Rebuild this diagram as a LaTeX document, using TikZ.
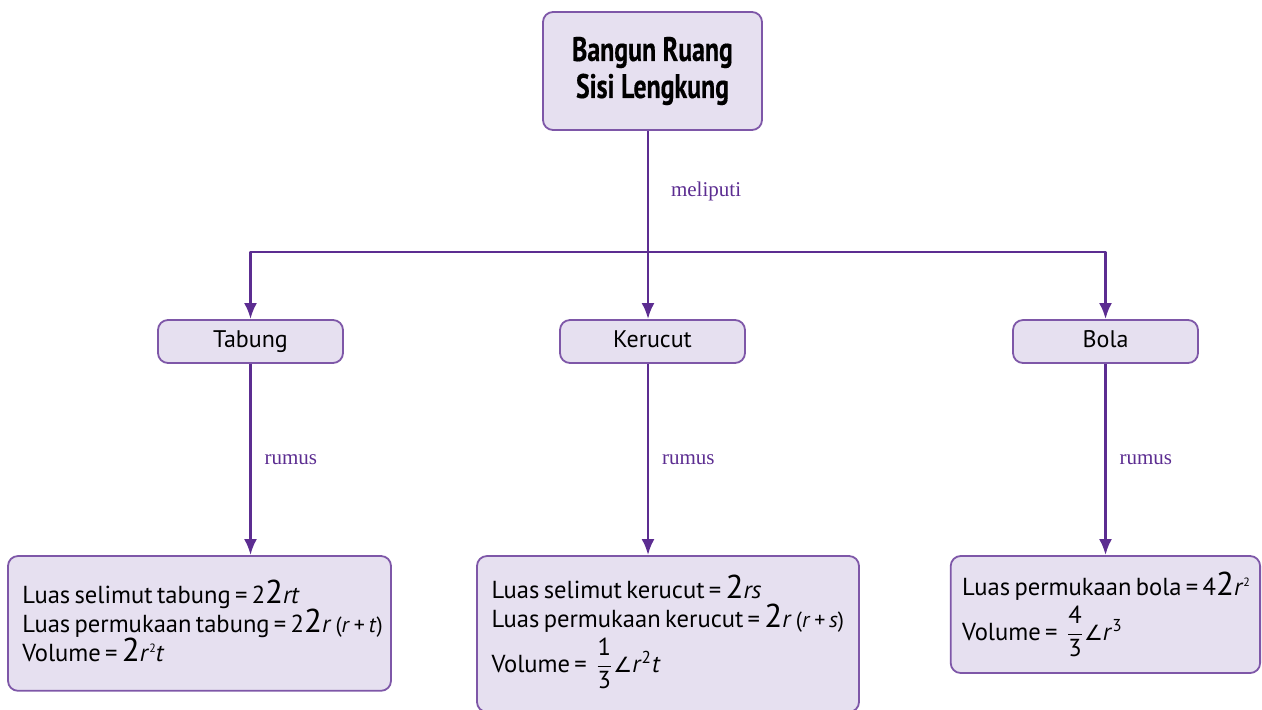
\documentclass[tikz,border=0pt]{standalone}
\usepackage{fontspec}
\setmainfont[WordSpace=0.65]{PT Sans}
\newfontfamily\judul[FakeStretch=0.76,BoldFeatures={FakeBold=0.4}]{PT Sans}
\newfontfamily\labelfont{Liberation Serif}
\newfontfamily\simbol{DejaVu Sans}
\usetikzlibrary{arrows.meta}
% angka 2 besar dan pecahan
\newcommand\duabesar{{\fontsize{16.5}{12}\selectfont 2}}
\newcommand\pecahan[2]{$\displaystyle\frac{\mbox{#1}}{\mbox{#2}}$}
\newcommand\sudut{{\simbol\fontsize{10.5}{12}\selectfont ∠}}
\begin{document}
\begin{tikzpicture}[x=.5pt,y=-.5pt,line join=round]
	\definecolor{ungu}{RGB}{92,45,145}
	\definecolor{garis}{RGB}{126,87,168}
	\definecolor{lavender}{RGB}{230,224,240}
	\tikzset{
		kotak/.style={draw=garis,fill=lavender,line width=.9pt,rounded corners=5pt,inner sep=0pt},
		kecil/.style={kotak,minimum width=92.5pt,minimum height=21.5pt,text height=8.6pt,text depth=2.6pt,font=\fontsize{12}{14}\selectfont},
		teks/.style={anchor=west,align=left,inner sep=0pt,font=\fontsize{12.3}{14.5}\selectfont},
		panah/.style={ungu,line width=1.4pt,-{Latex[length=8pt,width=6.5pt]}},
		ket/.style={anchor=west,font=\labelfont\fontsize{10.5}{12}\selectfont,text=ungu,xshift=3pt}
	}
	\useasboundingbox (0,0) rectangle (1262,709);
	
	% kotak utama
	\node[kotak,minimum width=109.5pt,minimum height=59pt,align=center,
	font=\judul\bfseries\fontsize{17}{18.5}\selectfont] (bangun) at (652.5,71) {Bangun Ruang\\Sisi Lengkung};
	
	\node[kecil] (tabung) at (250.5,341.5) {Tabung};
	\node[kecil] (kerucut) at (652.5,341.5) {Kerucut};
	\node[kecil] (bola) at (1105.5,341.5) {Bola};
	
	% kotak rumus
	\node[kotak,minimum width=191.5pt,minimum height=67.4pt] (rtabung) at (199.5,623.4) {};
	\node[kotak,minimum width=191pt,minimum height=78pt] (rkerucut) at (668,634) {};
	\node[kotak,minimum width=154.7pt,minimum height=58.5pt] (rbola) at (1105.4,614.5) {};
	
	\node[teks] (ttabung) at ([xshift=7.4pt,yshift=1.5pt]rtabung.west) {%
		Luas selimut tabung = 2\duabesar\textit{rt}\\
		Luas permukaan tabung = 2\duabesar\textit{r}\,{\fontsize{11}{12}\selectfont(\textit{r} + \textit{t})}\\
		Volume = \duabesar\textit{r}\raisebox{4.5pt}{\fontsize{6}{6}\selectfont 2}\textit{t}};
	\node[teks] (tkerucut) at ([xshift=7.5pt,yshift=1pt]rkerucut.west) {%
		Luas selimut kerucut = \duabesar\textit{rs}\\
		Luas permukaan kerucut = \duabesar\textit{r}\,{\fontsize{11}{12}\selectfont(\textit{r} + \textit{s})}\\[2pt]
		Volume = \,\pecahan{1}{3}\sudut\textit{r}\textsuperscript{2}\textit{t}};
	\node[teks] (tbola) at ([xshift=6pt]rbola.west) {%
		Luas permukaan bola = 4\duabesar\textit{r}\raisebox{4.5pt}{\fontsize{6}{6}\selectfont 2}\\[2pt]
		Volume = \,\pecahan{4}{3}\sudut\textit{r}\textsuperscript{3}};
	
	% garis penghubung
	\coordinate (cabang) at (648,252);
	\draw[ungu,line width=1.4pt] (bangun.south -| cabang) -- node[ket,xshift=4.5pt]{meliputi} (cabang);
	\draw[panah] (cabang) -| (tabung.north);
	\draw[panah] (cabang) -| (bola.north);
	\draw[panah] (cabang) -- (kerucut.north -| cabang);
	
	\draw[panah] (tabung.south) -- node[ket]{rumus} (tabung.south |- rtabung.north);
	\draw[panah] (kerucut.south -| cabang) -- node[ket]{rumus} (cabang |- rkerucut.north);
	\draw[panah] (bola.south) -- node[ket]{rumus} (bola.south |- rbola.north);
\end{tikzpicture}
\end{document}
